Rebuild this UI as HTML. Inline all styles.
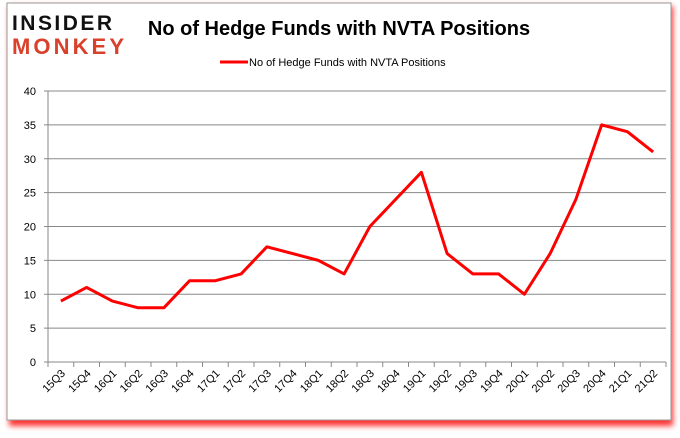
<!DOCTYPE html>
<html><head><meta charset="utf-8"><style>
body{margin:0;background:#fff;width:680px;height:433px;overflow:hidden;font-family:"Liberation Sans",sans-serif}
</style></head><body>
<svg width="680" height="433">
<defs><filter id="sh" x="-5%" y="-5%" width="110%" height="115%"><feGaussianBlur stdDeviation="3"/></filter></defs>
<rect x="9" y="6" width="664" height="420" fill="#f00" opacity="0.8" filter="url(#sh)"/>
<rect x="7" y="3" width="664" height="417" fill="#fff" stroke="#999"/>
<g font-family="'Liberation Sans',sans-serif" font-weight="bold">
<text x="12" y="30" font-size="21" fill="#111" textLength="100">INSIDER</text>
<text x="12" y="54" font-size="22" fill="#d9412b" textLength="112">MONKEY</text>
</g>
<text x="339" y="35" font-size="20" font-weight="bold" text-anchor="middle" fill="#000">No of Hedge Funds with NVTA Positions</text>
<g>
<line x1="220" y1="62" x2="248" y2="62" stroke="#f00" stroke-width="3"/>
<text x="249" y="66" font-size="11" fill="#000">No of Hedge Funds with NVTA Positions</text>
</g>
<g id="axes"></g>
<g id="plot"></g>
</svg>
<script>
const categories=["15Q3","15Q4","16Q1","16Q2","16Q3","16Q4","17Q1","17Q2","17Q3","17Q4","18Q1","18Q2","18Q3","18Q4","19Q1","19Q2","19Q3","19Q4","20Q1","20Q2","20Q3","20Q4","21Q1","21Q2"];
const values=[9,11,9,8,8,12,12,13,17,16,15,13,20,24,28,16,13,13,10,16,24,35,34,31];
const yTicks=[0,5,10,15,20,25,30,35,40];
const NS="http://www.w3.org/2000/svg";
const L=48,R=666,T=91,B=362,ymax=40;
const step=(R-L)/categories.length;
const x=i=>L+step*(i+0.5);
const y=v=>B-(v/ymax)*(B-T);
const axes=document.getElementById('axes'),plot=document.getElementById('plot');
function mk(tag,attrs,parent){const e=document.createElementNS(NS,tag);for(const k in attrs)e.setAttribute(k,attrs[k]);parent.appendChild(e);return e;}
yTicks.forEach(t=>{
 const g=mk('line',{x1:L,x2:R,y1:y(t),y2:y(t),stroke:t===0?'#888':'#888','stroke-width':1},axes);
 
 
 mk('line',{x1:L-4,x2:L,y1:y(t),y2:y(t),stroke:'#888'},axes);
 const tx=mk('text',{x:L-12,y:y(t)+4,'font-size':11,'text-anchor':'end',fill:'#000'},axes);
 tx.textContent=t;
 
 
});
mk('line',{x1:L,x2:L,y1:T,y2:B,stroke:'#888'},axes);
for(let i=0;i<=categories.length;i++)mk('line',{x1:L+step*i,x2:L+step*i,y1:B,y2:B+5,stroke:'#888'},axes);
categories.forEach((c,i)=>{
 const tx=mk('text',{x:x(i)+5,y:B+12,'font-size':11,'text-anchor':'end',fill:'#000',transform:`rotate(-45 ${x(i)+5} ${B+12})`},axes);
 tx.textContent=c;
 
 
});
const p=mk('polyline',{points:values.map((v,i)=>x(i)+','+y(v)).join(' '),fill:'none',stroke:'#f00','stroke-width':3,'stroke-linejoin':'round'},plot);


</script>
</body></html>
